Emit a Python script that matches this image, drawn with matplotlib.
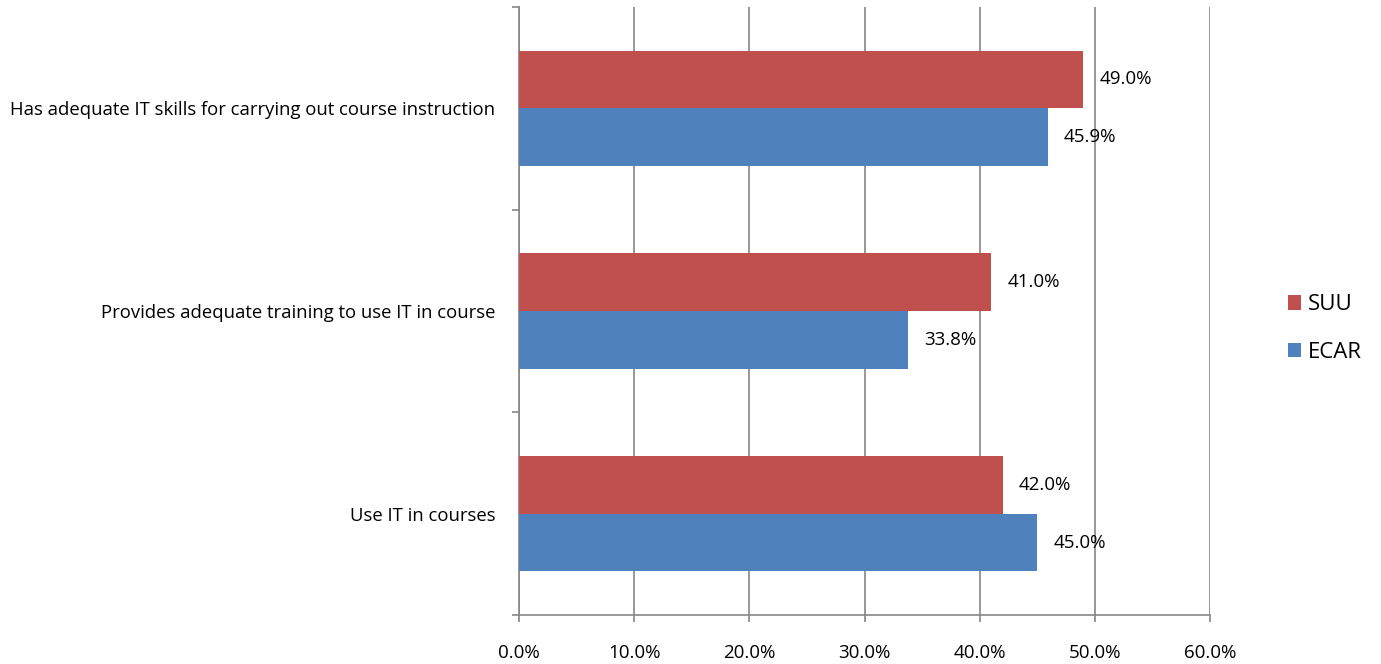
import matplotlib.pyplot as plt
import numpy as np

categories = ["Use IT in courses",
              "Provides adequate training to use IT in course",
              "Has adequate IT skills for carrying out course instruction"]
suu = [42.0, 41.0, 49.0]
ecar = [45.0, 33.8, 45.9]
xticks = [0, 10, 20, 30, 40, 50, 60]

plt.rcParams['font.family'] = ['Open Sans', 'DejaVu Sans']

fig = plt.figure(figsize=(13.81, 6.64), dpi=100)
ax = fig.add_axes([0.3758, 0.0738, 0.5004, 0.9157])

y = np.arange(len(categories))
h = 0.285
ax.barh(y + h / 2, suu, height=h, color="#c0504d", label="SUU", zorder=3)
ax.barh(y - h / 2, ecar, height=h, color="#4f81bd", label="ECAR", zorder=3)

for yi, v in zip(y, suu):
    ax.text(v + 1.4, yi + h / 2, f"{v:.1f}%", va="center", ha="left", fontsize=13.5)
for yi, v in zip(y, ecar):
    ax.text(v + 1.4, yi - h / 2, f"{v:.1f}%", va="center", ha="left", fontsize=13.5)

ax.set_xlim(0, 60)
ax.set_ylim(-0.5, 2.5)
ax.set_xticks(xticks)
ax.set_xticklabels([f"{t:.1f}%" for t in xticks], fontsize=13.5)
ax.set_yticks(y)
ax.set_yticklabels(categories, fontsize=13.3)
ax.set_yticks([-0.5, 0.5, 1.5, 2.5], minor=True)
ax.tick_params(axis="y", which="major", length=0, pad=17)
ax.tick_params(axis="y", which="minor", length=5, color="#868686", width=1.2)
ax.tick_params(axis="x", length=5, color="#868686", width=1.2, pad=16)

ax.grid(axis="x", color="#868686", linewidth=1.2, zorder=0)
for s in ["top", "right"]:
    ax.spines[s].set_visible(False)
for s in ["left", "bottom"]:
    ax.spines[s].set_color("#868686")
    ax.spines[s].set_linewidth(1.2)

handles, labels = ax.get_legend_handles_labels()
fig.legend(handles, labels, loc="center left", bbox_to_anchor=(0.918, 0.505),
           frameon=False, fontsize=16, handlelength=0.6, handleheight=0.6,
           handletextpad=0.3, labelspacing=1.2)

fig.savefig("out.png")
